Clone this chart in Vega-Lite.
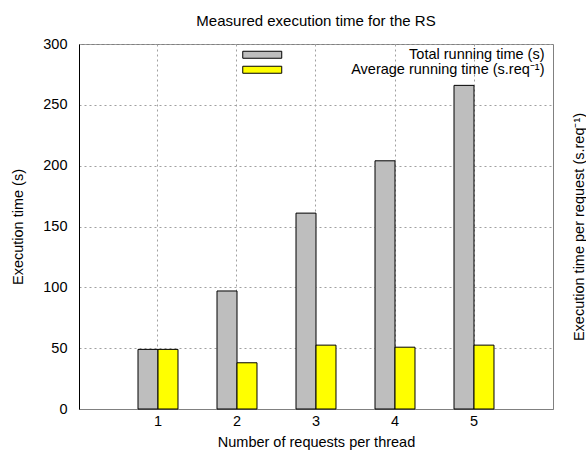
{
  "$schema": "https://vega.github.io/schema/vega-lite/v6.json",
  "autosize": "none",
  "width": 474,
  "height": 365,
  "padding": {"left": 79, "top": 44, "right": 33, "bottom": 41},
  "config": {
    "font": "Liberation Sans",
    "view": {"stroke": "#808080", "strokeWidth": 1},
    "axis": {"labelFont": "Liberation Sans", "titleFont": "Liberation Sans", "labelFontSize": 14.5, "titleFontSize": 14.5, "titleFontWeight": "normal", "labelColor": "#000", "titleColor": "#000"},
    "legend": {"labelFont": "Liberation Sans", "labelFontSize": 14.5, "labelColor": "#000", "padding": 0}
  },
  "title": {"text": "Measured execution time for the RS", "fontSize": 15, "fontWeight": "normal", "font": "Liberation Sans", "color": "#000", "offset": 7},
  "data": {"values": [
    {"requests": 1, "metric": "Total running time (s)", "value": 49},
    {"requests": 1, "metric": "Average running time (s.req⁻¹)", "value": 49},
    {"requests": 2, "metric": "Total running time (s)", "value": 97},
    {"requests": 2, "metric": "Average running time (s.req⁻¹)", "value": 38},
    {"requests": 3, "metric": "Total running time (s)", "value": 161},
    {"requests": 3, "metric": "Average running time (s.req⁻¹)", "value": 52.5},
    {"requests": 4, "metric": "Total running time (s)", "value": 204},
    {"requests": 4, "metric": "Average running time (s.req⁻¹)", "value": 50.8},
    {"requests": 5, "metric": "Total running time (s)", "value": 266},
    {"requests": 5, "metric": "Average running time (s.req⁻¹)", "value": 52.5}
  ]},
  "layer": [
    {
      "mark": {"type": "bar", "stroke": "#000", "strokeWidth": 1},
      "encoding": {
        "x": {"field": "requests", "type": "ordinal",
          "scale": {"paddingInner": 0.494, "paddingOuter": 0.747},
          "axis": {"title": "Number of requests per thread", "labelAngle": 0, "bandPosition": 0.5, "grid": true, "gridColor": "#a0a0a0", "gridDash": [2, 3], "ticks": false, "domainColor": "#808080", "labelPadding": 5, "titlePadding": 8}},
        "xOffset": {"field": "metric", "type": "nominal", "sort": ["Total running time (s)", "Average running time (s.req⁻¹)"], "scale": {"paddingInner": 0, "paddingOuter": 0}},
        "y": {"field": "value", "type": "quantitative",
          "scale": {"domain": [0, 300], "nice": false},
          "axis": {"title": "Execution time (s)", "values": [0, 50, 100, 150, 200, 250, 300], "grid": true, "gridColor": "#a0a0a0", "gridDash": [2, 3], "ticks": false, "domainColor": "#000", "labelPadding": 12, "titlePadding": 17}},
        "color": {"field": "metric", "type": "nominal", "sort": ["Total running time (s)", "Average running time (s.req⁻¹)"],
          "scale": {"domain": ["Total running time (s)", "Average running time (s.req⁻¹)"], "range": ["#bebebe", "#ffff00"]},
          "legend": {"title": null, "orient": "none", "legendX": 176, "legendY": 3.5, "symbolType": "M-5.57,-1H5.57V1H-5.57Z", "symbolSize": 49, "symbolStrokeColor": "#000", "symbolStrokeWidth": 1, "labelAlign": "right", "labelOffset": 275, "labelLimit": 0, "rowPadding": 0}}
      }
    },
    {
      "mark": {"type": "point", "opacity": 0},
      "encoding": {
        "x": {"field": "requests", "type": "ordinal"},
        "y": {"field": "value", "type": "quantitative",
          "scale": {"domain": [0, 300], "nice": false},
          "axis": {"orient": "right", "title": "Execution time per request (s.req⁻¹)", "titleAngle": 270, "labels": false, "ticks": false, "domain": false, "grid": false, "titlePadding": 33}}
      }
    }
  ],
  "resolve": {"scale": {"y": "independent"}}
}
